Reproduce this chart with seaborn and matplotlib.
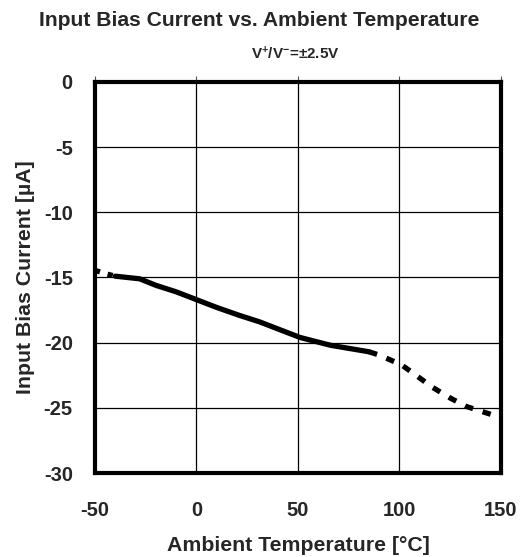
import matplotlib
matplotlib.use("Agg")
import matplotlib.pyplot as plt
import seaborn as sns
import pandas as pd

# ---- data ----
temp_low = [-50, -45, -40]
curr_low = [-14.45, -14.7, -14.9]

temp_mid = [-40, -28, -20, -10, 0, 10, 21, 31, 41, 51, 66, 85]
curr_mid = [-14.9, -15.1, -15.6, -16.1, -16.7, -17.3, -17.9, -18.4, -19.0, -19.6, -20.2, -20.7]

temp_high = [85, 90, 101, 109, 116, 125, 133, 143, 145]
curr_high = [-20.7, -20.95, -21.7, -22.6, -23.4, -24.25, -24.9, -25.4, -25.5]

x_ticks = [-50, 0, 50, 100, 150]
y_ticks = [0, -5, -10, -15, -20, -25, -30]

title = "Input Bias Current vs. Ambient Temperature"
subtitle = r"V$^{+}$/V$^{-}$=±2.5V"
xlabel = "Ambient Temperature [°C]"
ylabel = "Input Bias Current [µA]"

sns.set_theme(style="white")
plt.rcParams["font.family"] = ["Liberation Sans", "DejaVu Sans"]
plt.rcParams["mathtext.fontset"] = "custom"
plt.rcParams["mathtext.rm"] = "Liberation Sans:bold"
plt.rcParams["mathtext.it"] = "Liberation Sans:bold"
plt.rcParams["mathtext.bf"] = "Liberation Sans:bold"

fig = plt.figure(figsize=(5.21, 5.57), dpi=100)
ax = fig.add_axes([0.1823, 0.1508, 0.7793, 0.702])

df_low = pd.DataFrame({"T": temp_low, "I": curr_low})
df_mid = pd.DataFrame({"T": temp_mid, "I": curr_mid})
df_high = pd.DataFrame({"T": temp_high, "I": curr_high})

sns.lineplot(data=df_mid, x="T", y="I", ax=ax, color="black", lw=3.8,
             sort=False, zorder=3)
sns.lineplot(data=df_low, x="T", y="I", ax=ax, color="black", lw=3.8,
             linestyle=(0, (1.0, 1.5)), sort=False, zorder=3)
sns.lineplot(data=df_high, x="T", y="I", ax=ax, color="black", lw=3.8,
             linestyle=(0, (1.6, 1.9)), sort=False, zorder=3)

ax.set_xlim(-50, 150)
ax.set_ylim(-30, 0)
ax.set_xticks(x_ticks)
ax.set_yticks(y_ticks)
ax.set_xticklabels([str(v) for v in x_ticks], fontsize=14.5, fontweight="bold")
ax.set_yticklabels([str(v) for v in y_ticks], fontsize=14.5, fontweight="bold")
ax.tick_params(axis="x", which="both", top=True, bottom=False, direction="out",
               length=4, width=0.8, color="#555555", pad=16, labeltop=False,
               labelbottom=True)
ax.tick_params(axis="y", left=False, right=False, length=0, pad=16)

ax.grid(True, color="black", lw=0.9)
for s in ax.spines.values():
    s.set_visible(True)
    s.set_color("black")
    s.set_linewidth(3)
    s.set_zorder(4)

ax.set_xlabel(xlabel, fontsize=15.3, fontweight="bold", labelpad=12)
ax.set_ylabel(ylabel, fontsize=15.3, fontweight="bold", labelpad=6)

fig.text(0.497, 0.964, title, ha="center", va="center", fontsize=15.2,
         fontweight="bold")
fig.text(0.566, 0.903, subtitle, ha="center", va="center", fontsize=11,
         fontweight="bold")

fig.savefig("out.png", dpi=100)
